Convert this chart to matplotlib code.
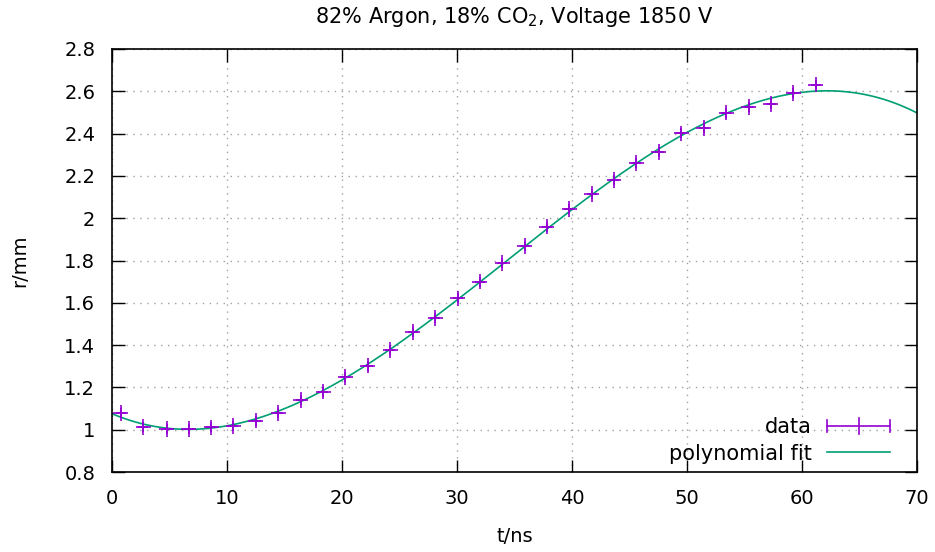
import matplotlib

matplotlib.use("Agg")
import matplotlib.pyplot as plt
import numpy as np
from matplotlib.legend_handler import HandlerBase
from matplotlib.lines import Line2D

# drift time (ns) and radius (mm) measurements
t_ns = [0.78, 2.72, 4.75, 6.68, 8.62, 10.56, 12.50, 14.44, 16.40, 18.35,
        20.30, 22.25, 24.20, 26.15, 28.10, 30.05, 31.98, 33.92, 35.87, 37.82,
        39.77, 41.70, 43.65, 45.60, 47.55, 49.50, 51.45, 53.40, 55.35, 57.30,
        59.22, 61.18]
r_mm = [1.080, 1.014, 1.003, 1.002, 1.011, 1.017, 1.043, 1.080, 1.140, 1.180,
        1.249, 1.303, 1.378, 1.462, 1.528, 1.621, 1.700, 1.788, 1.870, 1.960,
        2.045, 2.114, 2.181, 2.262, 2.313, 2.401, 2.425, 2.499, 2.525, 2.540,
        2.592, 2.632]
t_err = 0.65
r_err = 0.037

x_ticks = [0, 10, 20, 30, 40, 50, 60, 70]
y_ticks = [0.8, 1.0, 1.2, 1.4, 1.6, 1.8, 2.0, 2.2, 2.4, 2.6, 2.8]
y_ticklabels = ["0.8", "1", "1.2", "1.4", "1.6", "1.8", "2", "2.2", "2.4", "2.6", "2.8"]

purple = "#9400d3"
green = "#009e73"


class ErrKeyHandler(HandlerBase):
    """gnuplot-like key: horizontal bar with end caps and a centre tick."""

    def create_artists(self, legend, orig_handle, xdescent, ydescent, width,
                       height, fontsize, trans):
        y = height / 2 - ydescent
        x0, x1 = -xdescent, width - xdescent
        xm = (x0 + x1) / 2
        cap = 0.3 * fontsize
        mid = 0.4 * fontsize
        kw = dict(color=purple, lw=1.2, transform=trans)
        return [Line2D([x0, x1], [y, y], **kw),
                Line2D([x0, x0], [y - cap, y + cap], **kw),
                Line2D([x1, x1], [y - cap, y + cap], **kw),
                Line2D([xm, xm], [y - mid, y + mid], **kw)]


plt.rcParams["font.family"] = ["DejaVu Sans"]
plt.rcParams["font.size"] = 14

fig = plt.figure(figsize=(9.35, 5.52), dpi=100)
ax = fig.add_axes([112 / 935, 1 - 472 / 552, (917 - 112) / 935, (472 - 49) / 552])

# cubic fit through the measurements
coeffs = np.polyfit(t_ns, r_mm, 3)
t_fit = np.linspace(0, 70, 400)
fit_line, = ax.plot(t_fit, np.polyval(coeffs, t_fit), color=green, lw=1.2, zorder=2)

data = ax.errorbar(t_ns, r_mm, xerr=t_err, yerr=r_err, fmt="+", color=purple,
                   ms=7, mew=1.2, elinewidth=1.2, capsize=0, zorder=3)

ax.set_xlim(0, 70)
ax.set_ylim(0.8, 2.8)
ax.set_xticks(x_ticks)
ax.set_yticks(y_ticks)
ax.set_yticklabels(y_ticklabels)
ax.tick_params(direction="in", length=9, width=1, top=True, right=True)
ax.tick_params(axis="y", pad=12)
ax.tick_params(axis="x", pad=12)
ax.grid(True, color="#a0a0a0", linestyle=(0, (1, 4)), lw=1)
for s in ax.spines.values():
    s.set_linewidth(1.2)

ax.set_xlabel("t/ns", labelpad=14)
ax.set_ylabel("r/mm", labelpad=25)
ax.set_title("82% Argon, 18% CO$_2$, Voltage 1850 V", fontsize=15, pad=19)

ax.legend([data, fit_line], ["data", "polynomial fit"], loc="lower right",
          bbox_to_anchor=(0.983, -0.012), frameon=False, markerfirst=False,
          handlelength=3.0, fontsize=15, borderaxespad=0.25, labelspacing=0.3,
          handletextpad=0.75, handler_map={type(data): ErrKeyHandler()})

fig.savefig("out.png", dpi=100)
